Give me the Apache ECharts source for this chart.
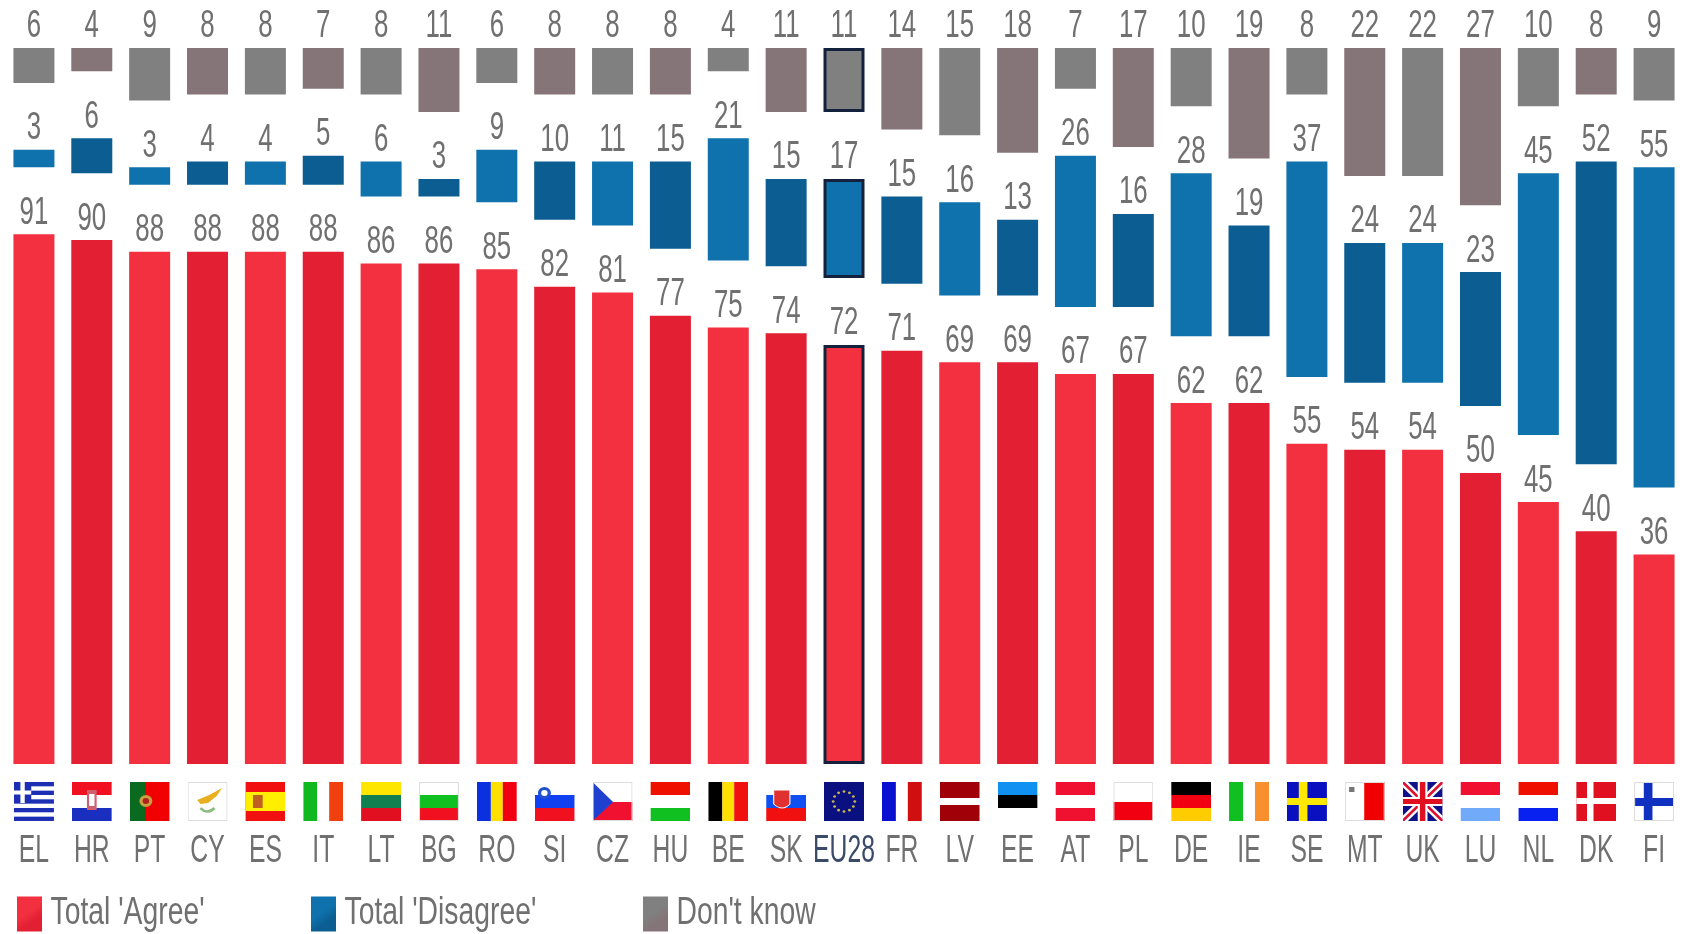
<!DOCTYPE html>
<html><head><meta charset="utf-8">
<style>html,body{margin:0;padding:0;background:#fff}#c{width:1683px;height:934px;filter:blur(0.6px)}</style>
<script src="https://cdn.jsdelivr.net/npm/echarts@6/dist/echarts.min.js"></script>
</head><body><div id="c"></div>
<script>
const categories=['EL','HR','PT','CY','ES','IT','LT','BG','RO','SI','CZ','HU','BE','SK','EU28','FR','LV','EE','AT','PL','DE','IE','SE','MT','UK','LU','NL','DK','FI'];
const agree=[91,90,88,88,88,88,86,86,85,82,81,77,75,74,72,71,69,69,67,67,62,62,55,54,54,50,45,40,36];
const disagree=[3,6,3,4,4,5,6,3,9,10,11,15,21,15,17,15,16,13,26,16,28,19,37,24,24,23,45,52,55];
const dontKnow=[6,4,9,8,8,7,8,11,6,8,8,8,4,11,11,14,15,18,7,17,10,19,8,22,22,27,10,8,9];
const seriesNames=["Total 'Agree'","Total 'Disagree'","Don't know"];

const W=37,H=39;
const r=(x,y,w,h,c)=>`<rect x="${x}" y="${y}" width="${w}" height="${h}" fill="${c}"/>`;
const hs=(a,b,c)=>r(0,0,W,13,a)+r(0,13,W,13,b)+r(0,26,W,13,c);
const vs=(a,b,c)=>r(0,0,13,H,a)+r(13,0,11,H,b)+r(24,0,13,H,c);
const edge=`<rect x=".5" y=".5" width="36" height="38" fill="none" stroke="#ddd"/>`;
function stars(){let s='';for(let i=0;i<12;i++){const a=i*Math.PI/6;s+=`<circle cx="${18.5+10*Math.cos(a)}" cy="${19.5+10*Math.sin(a)}" r="1.3" fill="#c9b84a"/>`;}return s;}
const flags={
EL:r(0,0,W,H,'#fff')+[0,2,4,6,8].map(i=>r(0,i*4.33,W,4.33,'#1c2fb4')).join('')+r(0,0,16,21,'#1c2fb4')+r(6,0,4,21,'#fff')+r(0,8.5,16,4,'#fff'),
HR:hs('#f01020','#fff','#1a2ec0')+r(14,8,9,20,'#d06070')+r(16,12,5,12,'#fff'),
PT:r(0,0,W,H,'#f00000')+r(0,0,15,H,'#0a6a20')+`<circle cx="15" cy="19" r="6" fill="#c8a040"/><circle cx="15" cy="19" r="3" fill="#b02020"/>`,
CY:r(0,0,W,H,'#fff')+edge+`<path d="M9 18 L20 13 L32 6 L27 14 L19 21 L12 22Z" fill="#e8b020"/><path d="M12 26 Q18 33 25 26" stroke="#8cbc80" stroke-width="2.5" fill="none"/>`,
ES:r(0,0,W,H,'#f01010')+r(0,10,W,19,'#ffee00')+r(7,13,9,13,'#c06020'),
IT:vs('#10b820','#fff','#f04010'),
LT:hs('#ffe600','#108050','#e01020'),
BG:r(0,0,W,13,'#fff')+r(0,13,W,13,'#10c020')+r(0,26,W,13,'#f01020')+edge,
RO:vs('#0a30e0','#ffe000','#f00010'),
SI:hs('#fff','#1040f0','#f01020')+`<circle cx="9" cy="11" r="6" fill="#2050d0"/><circle cx="9" cy="11" r="3" fill="#fff"/>`,
CZ:r(0,0,W,20,'#fff')+r(0,20,W,19,'#f01030')+`<path d="M0 0 L19 20 L0 39Z" fill="#2040d0"/>`+edge,
HU:hs('#f01000','#fff','#10c020'),
BE:vs('#000','#ffe000','#f01010'),
SK:hs('#fff','#1050f0','#f01010')+`<path d="M7 8 H22 V22 Q15 30 7 22Z" fill="#e03030" stroke="#fff"/>`,
EU28:r(0,0,W,H,'#0a1080')+stars(),
FR:vs('#0a10d0','#fff','#d01010'),
LV:r(0,0,W,16,'#a00008')+r(0,16,W,7,'#fff')+r(0,23,W,16,'#a00008'),
EE:hs('#1090f0','#000','#fff'),
AT:hs('#f01030','#fff','#f01030'),
PL:r(0,0,W,20,'#fff')+r(0,20,W,19,'#f00010')+edge,
DE:hs('#000','#f00010','#ffcc00'),
IE:vs('#10c020','#fff','#f89030'),
SE:r(0,0,W,H,'#0810c0')+r(11,0,8,H,'#ffe800')+r(0,16,W,7,'#ffe800'),
MT:r(0,0,18,H,'#fff')+r(18,0,19,H,'#f00000')+r(4,5,5,5,'#777')+edge,
UK:r(0,0,W,H,'#10108a')+`<path d="M0 0 L37 39 M37 0 L0 39" stroke="#fff" stroke-width="7"/><path d="M0 0 L37 39 M37 0 L0 39" stroke="#e01030" stroke-width="2.5"/>`+r(14,0,9,H,'#fff')+r(0,15,W,9,'#fff')+r(16,0,5,H,'#e01020')+r(0,17,W,5,'#e01020'),
LU:hs('#f01030','#fff','#70aaf8'),
NL:hs('#f01000','#fff','#0820f0'),
DK:r(0,0,W,H,'#e01020')+r(10,0,6,H,'#fff')+r(0,16,W,6,'#fff'),
FI:r(0,0,W,H,'#fff')+r(9,0,8,H,'#1030c0')+r(0,16,W,8,'#1030c0')+edge
};
const uri=k=>'data:image/svg+xml;charset=utf-8,'+encodeURIComponent(`<svg xmlns="http://www.w3.org/2000/svg" width="40" height="${H}" viewBox="0 0 ${W} ${H}" preserveAspectRatio="none">${flags[k]}</svg>`);

const FONT="'Liberation Sans',sans-serif";
const FS=38;
const TXT='#707070';
const flagRich={};
categories.forEach(c=>{flagRich['f'+c]={width:40,height:H,lineHeight:H,backgroundColor:{image:uri(c)}};});

const shades={a:['#F2303F','#E21F33'],d:['#0F72AD','#0C5E92'],k:['#808080','#857478']};
const mark=(vals,s)=>vals.map((v,i)=>({value:v,itemStyle:Object.assign({color:shades[s][i%2]},
   categories[i]==='EU28'?{borderColor:'#14213d',borderWidth:3}:{})}));
const lbl={show:true,position:'top',distance:2,fontFamily:FONT,fontSize:FS,color:TXT};
const GT=48,GH=716,MAX=123;
const GAP=Array(categories.length).fill(11.5);
const grad=(a,b)=>new echarts.graphic.LinearGradient(0,0,1,1,[{offset:0,color:a},{offset:.45,color:a},{offset:.7,color:b},{offset:1,color:b}]);

const chart=echarts.init(document.getElementById('c'),null,{renderer:'canvas'});
const leg=(left,name,color)=>({left,top:890,itemWidth:25,itemHeight:35,itemGap:0,selectedMode:false,icon:'rect',
   data:[{name,itemStyle:{color}}],
   textStyle:{fontFamily:FONT,fontSize:FS,color:TXT,padding:[15,0,0,15]}});
chart.setOption({
 animation:false,
 grid:[{left:5,top:GT,width:1678,height:GH},{left:5,top:GT,width:1678,height:GH}],
 legend:[leg(12,seriesNames[0],grad('#F2303F','#E21F33')),leg(306,seriesNames[1],grad('#0F72AD','#0C5E92')),leg(638,seriesNames[2],grad('#808080','#857478'))],
 xAxis:[{type:'category',data:categories,gridIndex:0,axisLine:{show:false},axisTick:{show:false},
   axisLabel:{interval:0,margin:18,formatter:v=>`{f${v}|}`,rich:flagRich}},
  {type:'category',data:categories,gridIndex:1,position:'bottom',axisLine:{show:false,onZero:false},axisTick:{show:false},
   axisLabel:{interval:0,margin:69,fontFamily:FONT,fontSize:FS,
     color:(v)=>v==='EU28'?'#3a4a68':TXT}}],
 yAxis:[{type:'value',min:0,max:MAX,gridIndex:0,show:false,splitLine:{show:false}},
  {type:'value',min:0,max:MAX,inverse:true,gridIndex:1,show:false,splitLine:{show:false}}],
 series:[
  {name:seriesNames[0],type:'bar',stack:'main',barWidth:41,itemStyle:{color:shades.a[0]},data:mark(agree,'a'),label:lbl},
  {name:'spacer',type:'bar',stack:'main',barWidth:41,silent:true,itemStyle:{color:'transparent'},data:GAP},
  {name:seriesNames[1],type:'bar',stack:'main',barWidth:41,itemStyle:{color:shades.d[0]},data:mark(disagree,'d'),label:lbl},
  {name:seriesNames[2],type:'bar',xAxisIndex:1,yAxisIndex:1,barWidth:41,itemStyle:{color:shades.k[0]},data:mark(dontKnow,'k'),label:lbl}
 ]
});
// The reference lettering is tall and narrow: condense the real text horizontally.
const scaleFor=t=>/^\d+$/.test(t)?.68:categories.includes(t)?.65:seriesNames.includes(t)?.745:0;
const condense=()=>{
 const zr=chart.getZr();
 zr.storage.traverse(el=>{
  const targets=[el];
  if(el.getTextContent&&el.getTextContent())targets.push(el.getTextContent());
  targets.forEach(t=>{
   if(t.type!=='text'||!t.style||t.style.text==null)return;
   const s=scaleFor(String(t.style.text));
   if(s){t.scaleX=s;t.markRedraw();if(el!==t)el.markRedraw();}
  });
 });
 zr.refresh();
};
condense();
</script></body></html>
